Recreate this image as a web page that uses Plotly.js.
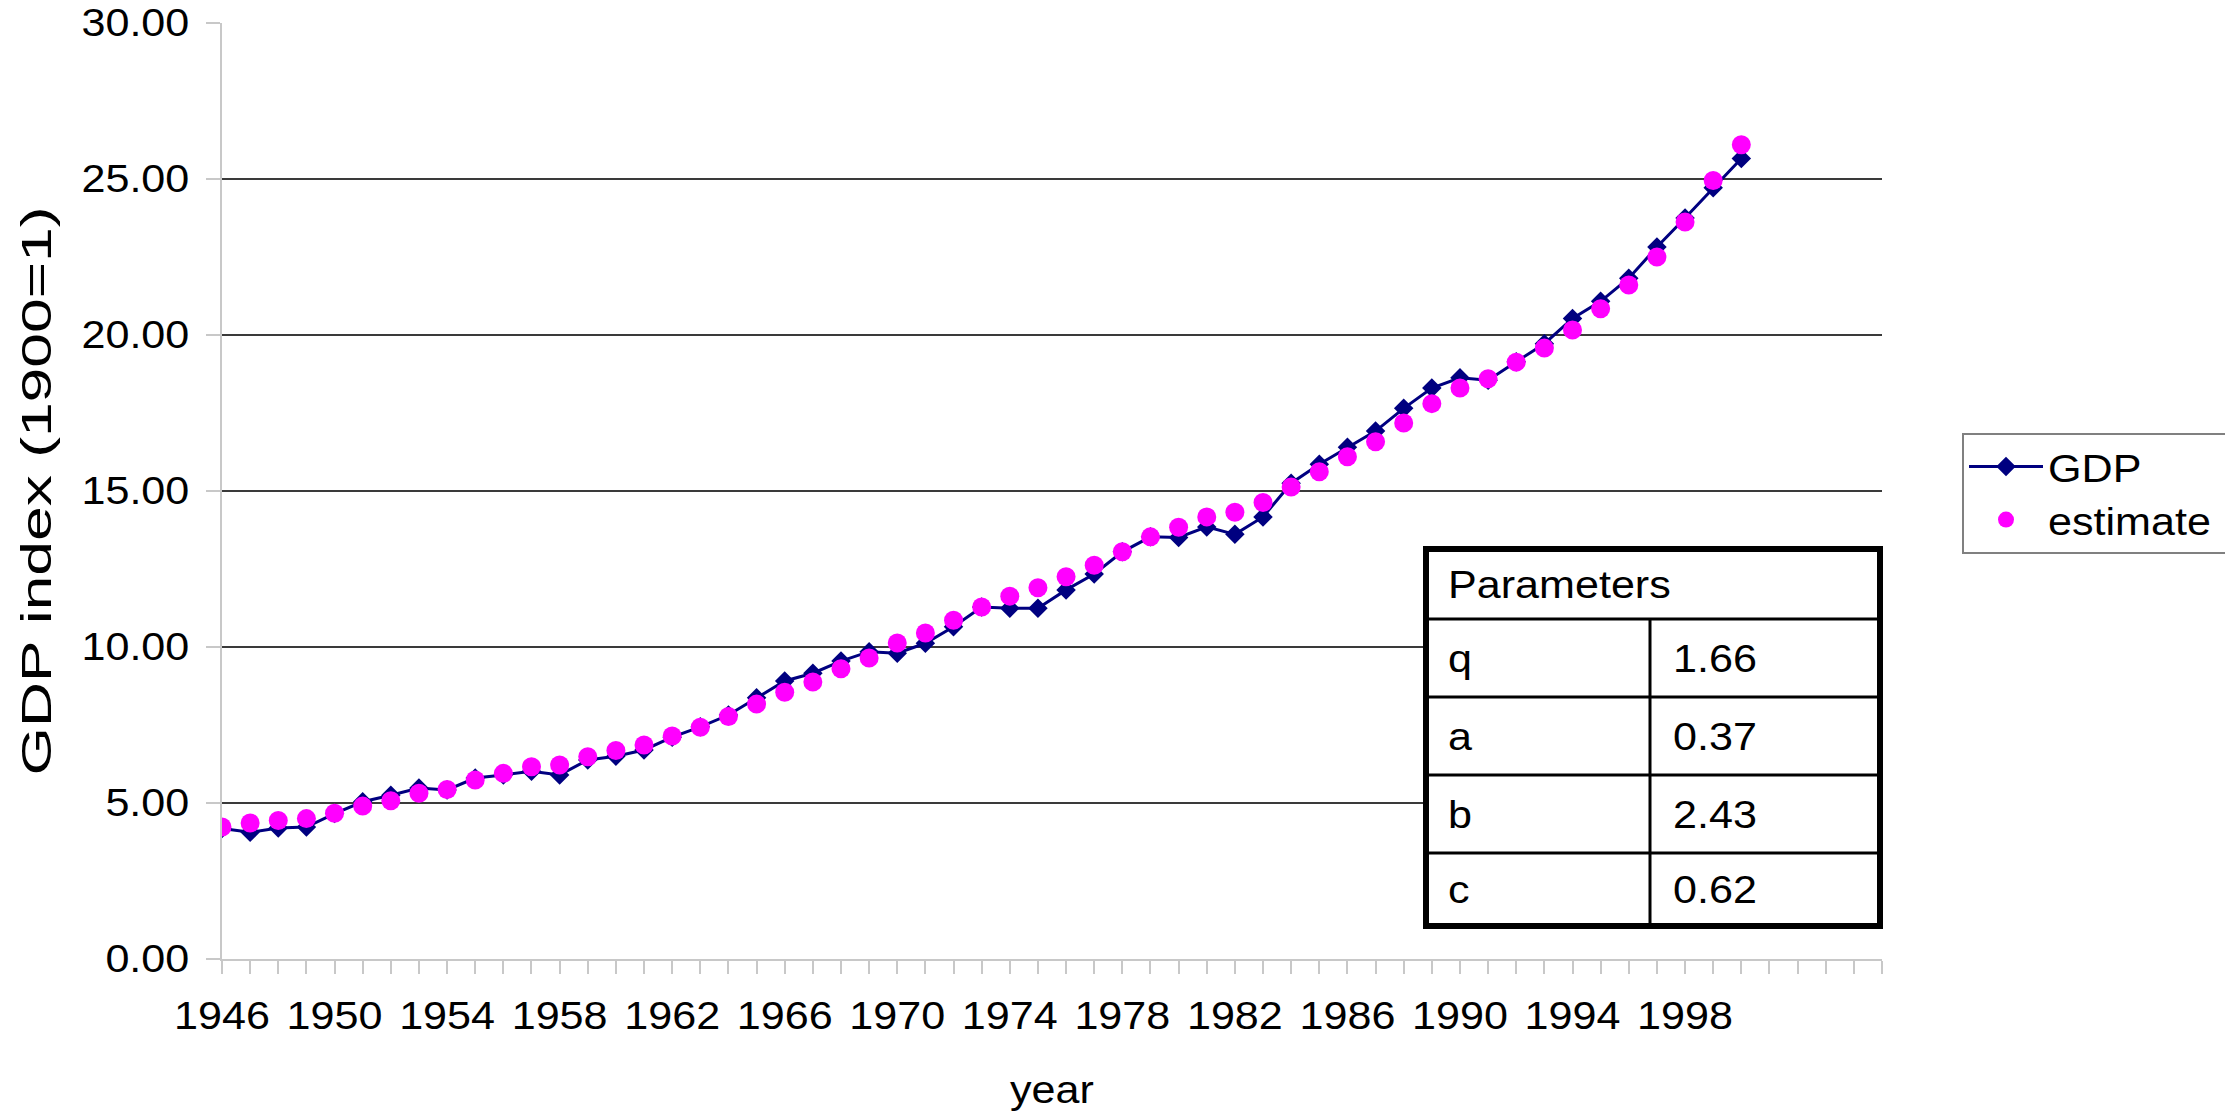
<!DOCTYPE html>
<html>
<head>
<meta charset="utf-8">
<script src="https://cdn.plot.ly/plotly-3.0.1.min.js"></script>
<style>
html,body{margin:0;padding:0;background:#fff;}
#chart{width:2225px;height:1111px;}
</style>
</head>
<body>
<div id="chart"></div>
<script>
// ---- data ----
var years = [1946,1947,1948,1949,1950,1951,1952,1953,1954,1955,
             1956,1957,1958,1959,1960,1961,1962,1963,1964,1965,
             1966,1967,1968,1969,1970,1971,1972,1973,1974,1975,
             1976,1977,1978,1979,1980,1981,1982,1983,1984,1985,
             1986,1987,1988,1989,1990,1991,1992,1993,1994,1995,
             1996,1997,1998,1999,2000];
var gdp = [4.18,4.06,4.20,4.23,4.66,5.04,5.25,5.48,5.42,5.80,
           5.90,6.02,5.90,6.38,6.50,6.70,7.11,7.44,7.82,8.37,
           8.91,9.16,9.55,9.85,9.80,10.12,10.65,11.28,11.24,11.24,
           11.83,12.34,13.05,13.53,13.51,13.85,13.61,14.17,15.25,15.86,
           16.40,16.92,17.65,18.30,18.63,18.55,19.14,19.72,20.53,21.08,
           21.82,22.82,23.75,24.72,25.66];
var estimate = [4.23,4.36,4.44,4.50,4.67,4.90,5.07,5.31,5.43,5.74,
                5.95,6.16,6.22,6.48,6.68,6.86,7.15,7.43,7.77,8.17,
                8.55,8.88,9.30,9.65,10.13,10.45,10.86,11.28,11.63,11.90,
                12.25,12.62,13.05,13.53,13.84,14.17,14.32,14.63,15.13,15.62,
                16.10,16.58,17.18,17.80,18.30,18.60,19.13,19.58,20.16,20.84,
                21.60,22.50,23.62,24.95,26.10];
var axisYears = [];
for (var yr = 1946; yr <= 2005; yr++) axisYears.push(yr);
var yearLabels = axisYears.map(function(y){ return (y <= 1998 && (y - 1946) % 4 === 0) ? String(y) : ''; });
var yTicks = [0,5,10,15,20,25,30];
var paramTitle = 'Parameters';
var paramNames = ['q','a','b','c'];
var paramValues = ['1.66','0.37','2.43','0.62'];

// ---- layout geometry (pixels) ----
var W = 2225, H = 1111;
var L = 222, R = 1882, T = 23, B = 959;
function px(x){ return (x - L) / (R - L); }
function py(y){ return (B - y) / (B - T); }

var FONT = 'Liberation Sans, Arial, sans-serif';
var FS = 38.5;
var STRETCH = 1.12;        // reference glyphs are a little wider than Arial
var YTITLE_FS = 43;
var YTITLE_STRETCH = 1.45; // the rotated title is drawn elongated in the reference

var traces = [
  {
    x: years, y: gdp, name: 'GDP', type: 'scatter', mode: 'lines+markers',
    line: {color: '#000080', width: 3},
    marker: {symbol: 'diamond', size: 15, color: '#000080'}
  },
  {
    x: years, y: estimate, name: 'estimate', type: 'scatter', mode: 'markers',
    marker: {symbol: 'circle', size: 19, color: '#FF00FF'}
  }
];

// ---- parameter table (shapes + annotations) ----
var tL = 1426, tR = 1880, tT = 549, tB = 926, tC = 1650;
var rowLines = [619, 697, 775, 853];
var shapes = [];
shapes.push({type:'rect', xref:'paper', yref:'paper', x0:px(tL), x1:px(tR), y0:py(tB), y1:py(tT),
             line:{color:'#000', width:6}, fillcolor:'#fff', layer:'above'});
rowLines.forEach(function(r){
  shapes.push({type:'line', xref:'paper', yref:'paper', x0:px(tL), x1:px(tR), y0:py(r), y1:py(r),
               line:{color:'#000', width:3}, layer:'above'});
});
shapes.push({type:'line', xref:'paper', yref:'paper', x0:px(tC), x1:px(tC), y0:py(rowLines[0]), y1:py(tB),
             line:{color:'#000', width:3}, layer:'above'});

var annotations = [];
annotations.push({xref:'paper', yref:'paper', x:px(1446), y:py((tT + rowLines[0]) / 2),
                  xanchor:'left', yanchor:'middle', showarrow:false, text:paramTitle, align:'left',
                  font:{family:FONT, size:FS, color:'#000'}});
var rowEdges = rowLines.concat([tB]);
paramNames.forEach(function(n, i){
  var cy = (rowEdges[i] + rowEdges[i+1]) / 2;
  annotations.push({xref:'paper', yref:'paper', x:px(1446), y:py(cy), xanchor:'left', yanchor:'middle',
                    showarrow:false, text:n, align:'left', font:{family:FONT, size:FS, color:'#000'}});
  annotations.push({xref:'paper', yref:'paper', x:px(1671), y:py(cy), xanchor:'left', yanchor:'middle',
                    showarrow:false, text:paramValues[i], align:'left', font:{family:FONT, size:FS, color:'#000'}});
});

var layout = {
  width: W, height: H,
  margin: {l: L, r: W - R, t: T, b: H - B, pad: 0},
  paper_bgcolor: '#fff', plot_bgcolor: '#fff',
  font: {family: FONT, size: FS, color: '#000'},
  showlegend: true,
  legend: {
    x: px(1962), y: py(433), xanchor: 'left', yanchor: 'top',
    bordercolor: '#808080', borderwidth: 2, bgcolor: '#fff',
    font: {family: FONT, size: FS, color: '#000'},
    itemwidth: 74, tracegroupgap: 0
  },
  xaxis: {
    type: 'linear', range: [1946, 2005], fixedrange: true,
    tickmode: 'array', tickvals: axisYears, ticktext: yearLabels,
    ticks: 'outside', ticklen: 13, tickwidth: 2, tickcolor: '#c8c8c8',
    showline: true, linecolor: '#c8c8c8', linewidth: 2,
    showgrid: false, zeroline: false,
    tickfont: {family: FONT, size: FS, color: '#000'},
    ticklabelstandoff: 9,
    title: {text: 'year', font: {family: FONT, size: FS, color: '#000'}, standoff: 40},
    automargin: false
  },
  yaxis: {
    range: [0, 30], fixedrange: true,
    tickmode: 'array', tickvals: yTicks, tickformat: '.2f',
    ticks: 'outside', ticklen: 14, tickwidth: 2, tickcolor: '#c8c8c8',
    showline: true, linecolor: '#c8c8c8', linewidth: 2,
    showgrid: true, gridcolor: '#3a3a3a', gridwidth: 1.5,
    zeroline: false,
    tickfont: {family: FONT, size: FS, color: '#000'},
    ticklabelstandoff: 9,
    title: {text: 'GDP index (1900=1)', font: {family: FONT, size: YTITLE_FS, color: '#000'}, standoff: 28},
    automargin: false
  },
  shapes: shapes,
  annotations: annotations
};

Plotly.newPlot('chart', traces, layout, {displayModeBar: false, staticPlot: true}).then(function(gd){
  var NS = 'http://www.w3.org/2000/svg';
  // widen glyphs slightly along their reading direction, keeping the anchor edge fixed
  var texts = Array.prototype.slice.call(gd.querySelectorAll('svg.main-svg text'));
  texts.forEach(function(t){
    if (!t.textContent || !t.textContent.trim()) return;
    var g = document.createElementNS(NS, 'g');
    t.parentNode.insertBefore(g, t);
    g.appendChild(t);
    var bb = g.getBBox();
    var rotated = (t.getAttribute('transform') || '').indexOf('rotate') >= 0;
    var anchor = t.getAttribute('text-anchor') || 'start';
    var inAnn = !!t.closest('.annotation');
    var inLegend = !!t.closest('.legend');
    var ox = bb.x + bb.width / 2, oy = bb.y + bb.height / 2;
    if (!rotated) {
      if (inAnn || inLegend || anchor === 'start') ox = bb.x;
      else if (anchor === 'end') ox = bb.x + bb.width;
    }
    var sx = rotated ? 1 : STRETCH, sy = rotated ? YTITLE_STRETCH : 1;
    g.setAttribute('transform', 'translate(' + ox + ',' + oy + ') scale(' + sx + ',' + sy + ') translate(' + (-ox) + ',' + (-oy) + ')');
  });
  // the reference legend frame runs on past the right edge of the picture
  var bg = gd.querySelector('.legend rect.bg');
  if (bg) bg.setAttribute('width', 320);
  Array.prototype.slice.call(gd.querySelectorAll('clipPath')).forEach(function(cp){
    if ((cp.id || '').indexOf('legend') === 0) {
      var r = cp.querySelector('rect');
      if (r) r.setAttribute('width', 320);
    }
  });
});
</script>
</body>
</html>
